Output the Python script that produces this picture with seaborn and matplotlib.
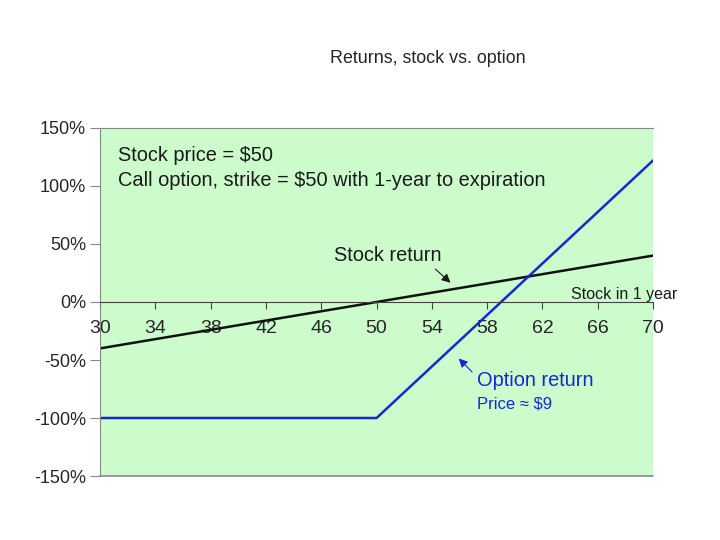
import matplotlib
matplotlib.use("Agg")
import matplotlib.pyplot as plt
import seaborn as sns
import pandas as pd

# values
stock_price = [30, 50, 70]
stock_return = [-0.40, 0.00, 0.40]
option_return = [-1.00, -1.00, 1.22]
x_ticks = [30, 34, 38, 42, 46, 50, 54, 58, 62, 66, 70]
y_ticks = [-1.5, -1.0, -0.5, 0.0, 0.5, 1.0, 1.5]
y_labels = ["-150%", "-100%", "-50%", "0%", "50%", "100%", "150%"]

df = pd.DataFrame({"price": stock_price, "stock": stock_return, "option": option_return})

sns.set_style("white")
plt.rcParams["font.family"] = ["Liberation Sans", "DejaVu Sans"]

fig = plt.figure(figsize=(7.2, 5.4), dpi=100)
ax = fig.add_axes([0.139, 0.1185, 0.768, 0.6445])
ax.set_facecolor("#ccfccc")

sns.lineplot(data=df, x="price", y="stock", color="#111111", lw=1.8, ax=ax)
sns.lineplot(data=df, x="price", y="option", color="#1428d8", lw=1.8, ax=ax)

ax.set_xlim(30, 70)
ax.set_ylim(-1.5, 1.5)
ax.set_xticks(x_ticks)
ax.set_yticks(y_ticks)
ax.set_yticklabels(y_labels)
ax.set_xlabel("")
ax.set_ylabel("")

# x axis drawn through zero
ax.spines["bottom"].set_position(("data", 0))
ax.spines["bottom"].set_color("#444444")
ax.spines["right"].set_visible(False)
for s in ["left", "top"]:
    ax.spines[s].set_color("#888888")
ax.axhline(-1.5, color="#888888", lw=1.2, clip_on=False)

ax.tick_params(axis="y", direction="out", length=7, color="#888888",
               labelsize=13, pad=3, left=True)
ax.tick_params(axis="x", direction="out", length=5, color="#444444",
               labelsize=14, pad=8, bottom=True)

ax.text(31.3, 1.26, "Stock price = $50", fontsize=14.4, va="center", color="#1a1a1a")
ax.text(31.3, 1.05, "Call option, strike = $50 with 1-year to expiration",
        fontsize=14.4, va="center", color="#1a1a1a")
ax.text(46.9, 0.40, "Stock return", fontsize=14.4, va="center", color="#1a1a1a")
ax.annotate("", xy=(55.5, 0.15), xytext=(54.1, 0.30),
            arrowprops=dict(arrowstyle="-|>", color="#1a1a1a", lw=0.8, mutation_scale=13))
ax.text(64.1, 0.065, "Stock in 1 year", fontsize=11.5, va="center", color="#1a1a1a")
ax.text(57.3, -0.68, "Option return", fontsize=14.4, va="center", color="#1428d8")
ax.text(57.3, -0.875, "Price \u2248 $9", fontsize=12, va="center", color="#1428d8")
ax.annotate("", xy=(55.8, -0.47), xytext=(57.05, -0.62),
            arrowprops=dict(arrowstyle="-|>", color="#1428d8", lw=0.8, mutation_scale=13))

fig.text(0.594, 0.891, "Returns, stock vs. option", ha="center", va="center", fontsize=12.9)

fig.savefig("out.png", dpi=100)
